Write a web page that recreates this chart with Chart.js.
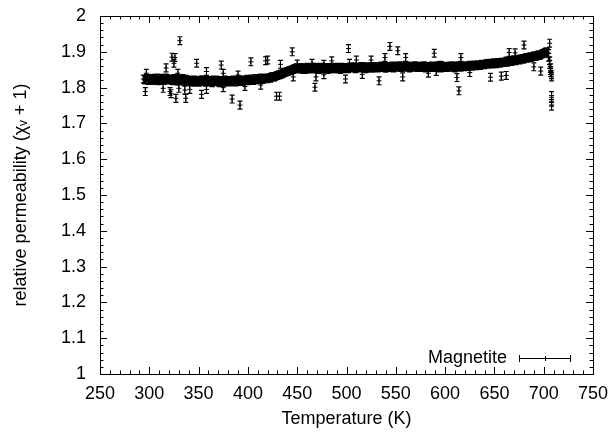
<!DOCTYPE html>
<html>
<head>
<meta charset="utf-8">
<script src="https://cdn.jsdelivr.net/npm/chart.js@4"></script>
<style>
  html, body { margin: 0; padding: 0; background: #fff; }
  #wrap { width: 613px; height: 433px; }
</style>
</head>
<body>
<div id="wrap"><canvas id="chart" width="613" height="433"></canvas></div>
<script>
// main band of measurements (K, relative permeability), even temperatures
const bandTemps = [
  294, 296, 298, 300, 302, 304, 306, 308, 310, 312, 314, 316, 318,
  320, 322, 324, 326, 328, 330, 332, 334, 336, 338,
  340, 342, 344, 346, 348, 350, 352, 354, 356, 358, 360, 362, 364, 366, 368, 370, 372, 374, 376, 378,
  380, 382, 384, 386, 388, 390, 392, 394, 396, 398,
  400, 402, 404, 406, 408, 410, 412, 414, 416, 418,
  420, 422, 424, 426, 428, 430,
  432, 434, 436, 438, 440, 442, 444, 446,
  448, 450, 452, 454, 456, 458, 460, 462, 464, 466, 468, 470, 472, 474, 476, 478, 480, 482, 484, 486, 488, 490, 492, 494, 496, 498,
  500, 502, 504, 506, 508, 510, 512, 514, 516, 518, 520, 522, 524, 526, 528, 530, 532, 534, 536, 538, 540, 542, 544, 546, 548, 550, 552, 554, 556, 558,
  560, 562, 564, 566, 568, 570, 572, 574, 576, 578, 580, 582, 584, 586, 588, 590, 592, 594, 596, 598, 600, 602, 604, 606, 608, 610, 612, 614, 616, 618,
  620, 622, 624, 626, 628, 630, 632, 634, 636, 638,
  640, 642, 644, 646, 648, 650, 652, 654, 656, 658,
  660, 662, 664, 666, 668, 670, 672, 674, 676, 678,
  680, 682, 684, 686, 688, 690, 692, 694, 696, 698,
  700, 702, 704
];
const bandPerm = [
  1.824, 1.821, 1.826, 1.822, 1.825, 1.820, 1.824, 1.827, 1.821, 1.823, 1.826, 1.822, 1.825,
  1.821, 1.824, 1.819, 1.823, 1.826, 1.820, 1.822, 1.825, 1.819, 1.822,
  1.820, 1.816, 1.819, 1.821, 1.817, 1.815, 1.819, 1.822, 1.818, 1.816,
  1.820, 1.817, 1.814, 1.819, 1.821, 1.816, 1.818, 1.820, 1.815, 1.818,
  1.817, 1.820, 1.818, 1.821, 1.816, 1.819, 1.822, 1.818, 1.820, 1.821,
  1.819, 1.822, 1.824, 1.820, 1.823, 1.825, 1.822, 1.826, 1.824, 1.827,
  1.825, 1.828, 1.830, 1.829, 1.832, 1.834,
  1.835, 1.838, 1.840, 1.843, 1.845, 1.847, 1.849, 1.851,
  1.852, 1.855, 1.853, 1.856, 1.851, 1.854, 1.857, 1.853, 1.855, 1.852,
  1.856, 1.854, 1.851, 1.855, 1.857, 1.853, 1.854, 1.856, 1.852, 1.855,
  1.853, 1.857, 1.854, 1.851, 1.856, 1.855,
  1.856, 1.853, 1.857, 1.855, 1.858, 1.854, 1.856, 1.859, 1.855, 1.857,
  1.853, 1.858, 1.856, 1.854, 1.859, 1.857, 1.855, 1.858, 1.860, 1.856,
  1.854, 1.858, 1.857, 1.860, 1.855, 1.859, 1.857, 1.861, 1.856, 1.858,
  1.860, 1.857, 1.855, 1.859, 1.858, 1.861, 1.856, 1.858, 1.860, 1.857,
  1.855, 1.859, 1.857, 1.860, 1.856, 1.858, 1.861, 1.857, 1.855, 1.859,
  1.858, 1.856, 1.860, 1.857, 1.859, 1.855, 1.858, 1.861, 1.857, 1.859,
  1.858, 1.861, 1.859, 1.862, 1.860, 1.863, 1.861, 1.864, 1.862, 1.865,
  1.864, 1.867, 1.865, 1.868, 1.866, 1.869, 1.867, 1.870, 1.868, 1.871,
  1.870, 1.874, 1.872, 1.876, 1.874, 1.878, 1.875, 1.879, 1.877, 1.881,
  1.880, 1.884, 1.882, 1.886, 1.885, 1.889, 1.887, 1.891, 1.890, 1.894,
  1.896, 1.899, 1.897
];
// same band, odd temperatures
const bandTempsOdd = [
  295, 297, 299, 301, 303, 305, 307, 309, 311, 313, 315, 317, 319,
  321, 323, 325, 327, 329, 331, 333, 335, 337, 339,
  341, 343, 345, 347, 349, 351, 353, 355, 357, 359, 361, 363, 365, 367, 369, 371, 373, 375, 377, 379,
  381, 383, 385, 387, 389, 391, 393, 395, 397, 399,
  401, 403, 405, 407, 409, 411, 413, 415, 417, 419,
  421, 423, 425, 427, 429, 431,
  433, 435, 437, 439, 441, 443, 445, 447,
  449, 451, 453, 455, 457, 459, 461, 463, 465, 467, 469, 471, 473, 475, 477, 479, 481, 483, 485, 487, 489, 491, 493, 495, 497, 499,
  501, 503, 505, 507, 509, 511, 513, 515, 517, 519, 521, 523, 525, 527, 529, 531, 533, 535, 537, 539, 541, 543, 545, 547, 549, 551, 553, 555, 557, 559,
  561, 563, 565, 567, 569, 571, 573, 575, 577, 579, 581, 583, 585, 587, 589, 591, 593, 595, 597, 599, 601, 603, 605, 607, 609, 611, 613, 615, 617, 619,
  621, 623, 625, 627, 629, 631, 633, 635, 637, 639,
  641, 643, 645, 647, 649, 651, 653, 655, 657, 659,
  661, 663, 665, 667, 669, 671, 673, 675, 677, 679,
  681, 683, 685, 687, 689, 691, 693, 695, 697, 699,
  701, 703
];
const bandPermOdd = [
  1.822, 1.826, 1.820, 1.824, 1.821, 1.826, 1.823, 1.819, 1.825, 1.822, 1.820, 1.827, 1.823,
  1.823, 1.820, 1.825, 1.821, 1.818, 1.824, 1.821, 1.817, 1.823, 1.820,
  1.817, 1.821, 1.815, 1.818, 1.820, 1.816, 1.822, 1.817, 1.815, 1.820,
  1.818, 1.815, 1.821, 1.817, 1.819, 1.814, 1.820, 1.817, 1.821, 1.816,
  1.819, 1.816, 1.821, 1.817, 1.820, 1.822, 1.817, 1.821, 1.819, 1.823,
  1.821, 1.824, 1.820, 1.825, 1.822, 1.824, 1.827, 1.823, 1.826, 1.825,
  1.827, 1.826, 1.831, 1.830, 1.833, 1.836,
  1.837, 1.839, 1.842, 1.844, 1.846, 1.848, 1.850, 1.853,
  1.855, 1.852, 1.856, 1.853, 1.855, 1.851, 1.856, 1.854, 1.852, 1.857,
  1.853, 1.855, 1.857, 1.852, 1.854, 1.856, 1.851, 1.855, 1.857, 1.853,
  1.856, 1.852, 1.855, 1.857, 1.853, 1.854,
  1.854, 1.857, 1.855, 1.858, 1.853, 1.857, 1.855, 1.856, 1.859, 1.854,
  1.857, 1.855, 1.859, 1.856, 1.855, 1.858, 1.856, 1.860, 1.857, 1.855,
  1.859, 1.856, 1.858, 1.855, 1.860, 1.857, 1.859, 1.856, 1.860, 1.857,
  1.858, 1.860, 1.856, 1.857, 1.861, 1.858, 1.859, 1.856, 1.858, 1.861,
  1.857, 1.856, 1.859, 1.858, 1.860, 1.857, 1.855, 1.859, 1.861, 1.857,
  1.856, 1.859, 1.858, 1.861, 1.856, 1.860, 1.857, 1.859, 1.858, 1.860,
  1.860, 1.859, 1.862, 1.860, 1.863, 1.861, 1.864, 1.862, 1.865, 1.864,
  1.866, 1.865, 1.868, 1.866, 1.869, 1.867, 1.870, 1.868, 1.871, 1.870,
  1.872, 1.871, 1.875, 1.873, 1.877, 1.876, 1.878, 1.877, 1.880, 1.879,
  1.882, 1.882, 1.885, 1.884, 1.887, 1.888, 1.889, 1.892, 1.892, 1.895,
  1.898, 1.900
];
// scattered readings away from the band, plus the drop at the end of the run
const strayTemps = [
  296, 297, 314, 317, 321, 322, 323, 325, 326, 327, 329, 330, 331, 336, 337, 341, 348, 353, 358, 358,
  373, 375, 375, 384, 390, 392, 397, 403, 413, 418, 420, 429, 432, 433, 445, 446, 450, 465, 468, 469,
  477, 477, 485, 499, 502, 503, 510, 516, 525, 533, 539, 544, 552, 557, 560, 583, 589, 591, 595, 612,
  614, 616, 625, 646, 657, 662, 665, 671, 680, 690, 697, 706,
  705, 705, 706, 706, 707, 707, 707, 708, 708, 708, 708, 708
];
const strayPerm = [
  1.789, 1.840, 1.798, 1.855, 1.789, 1.783, 1.885, 1.868, 1.884, 1.770, 1.840, 1.798, 1.931, 1.793, 1.770, 1.795, 1.868, 1.781, 1.845, 1.795,
  1.863, 1.840, 1.800, 1.768, 1.835, 1.751, 1.803, 1.872, 1.807, 1.875, 1.877, 1.776, 1.776, 1.865, 1.900, 1.830, 1.866, 1.868, 1.801, 1.830,
  1.865, 1.836, 1.875, 1.824, 1.909, 1.868, 1.877, 1.837, 1.877, 1.819, 1.884, 1.915, 1.903, 1.830, 1.884, 1.840, 1.896, 1.845, 1.862, 1.828,
  1.791, 1.884, 1.842, 1.829, 1.832, 1.834, 1.898, 1.897, 1.919, 1.858, 1.846, 1.924,
  1.895, 1.885, 1.875, 1.865, 1.855, 1.848, 1.842, 1.836, 1.830, 1.778, 1.762, 1.748
];
const permError = 0.011;

const seriesName = 'Magnetite';
const xTickLabels = ['250', '300', '350', '400', '450', '500', '550', '600', '650', '700', '750'];
const yTickLabels = ['1', '1.1', '1.2', '1.3', '1.4', '1.5', '1.6', '1.7', '1.8', '1.9', '2'];

const allTemps = bandTemps.concat(bandTempsOdd, strayTemps);
const allPerm = bandPerm.concat(bandPermOdd, strayPerm);
const points = allTemps.map((t, i) => ({ x: t, y: allPerm[i] }));

const font = { family: '"Liberation Sans", Arial, sans-serif', size: 18 };

// vertical error bars with small caps
const errorBars = {
  id: 'errorBars',
  beforeDatasetsDraw(chart) {
    const ctx = chart.ctx;
    const xs = chart.scales.x, ys = chart.scales.y;
    ctx.save();
    ctx.strokeStyle = '#000';
    ctx.lineWidth = 1.2;
    ctx.beginPath();
    points.forEach(p => {
      const px = xs.getPixelForValue(p.x);
      const top = ys.getPixelForValue(p.y + permError);
      const bot = ys.getPixelForValue(p.y - permError);
      ctx.moveTo(px, top); ctx.lineTo(px, bot);
      ctx.moveTo(px - 2.5, top); ctx.lineTo(px + 2.5, top);
      ctx.moveTo(px - 2.5, bot); ctx.lineTo(px + 2.5, bot);
    });
    ctx.stroke();
    ctx.restore();
  }
};

// gnuplot style border with inward ticks on all four sides, and the key
const frame = {
  id: 'frame',
  afterDraw(chart) {
    const ctx = chart.ctx;
    const a = chart.chartArea;
    const xs = chart.scales.x, ys = chart.scales.y;
    ctx.save();
    ctx.strokeStyle = '#000';
    ctx.lineWidth = 1;
    ctx.beginPath();
    for (let v = 250; v <= 750; v += 10) {
      const px = Math.round(xs.getPixelForValue(v)) + 0.5;
      const len = (v % 50 === 0) ? 7 : 3.5;
      ctx.moveTo(px, a.bottom); ctx.lineTo(px, a.bottom - len);
      ctx.moveTo(px, a.top); ctx.lineTo(px, a.top + len);
    }
    for (let k = 0; k <= 50; k++) {
      const py = Math.round(ys.getPixelForValue(1 + k * 0.02)) + 0.5;
      const len = (k % 5 === 0) ? 7 : 3.5;
      ctx.moveTo(a.left, py); ctx.lineTo(a.left + len, py);
      ctx.moveTo(a.right, py); ctx.lineTo(a.right - len, py);
    }
    ctx.stroke();
    ctx.strokeRect(Math.round(a.left) + 0.5, Math.round(a.top) + 0.5,
      Math.round(a.right - a.left), Math.round(a.bottom - a.top));

    // key
    ctx.fillStyle = '#000';
    ctx.font = font.size + 'px ' + font.family;
    ctx.textAlign = 'right';
    ctx.textBaseline = 'middle';
    ctx.fillText(seriesName, 507, 358);
    ctx.beginPath();
    ctx.moveTo(519, 358.5); ctx.lineTo(571, 358.5);
    ctx.moveTo(519.5, 355); ctx.lineTo(519.5, 362);
    ctx.moveTo(570.5, 355); ctx.lineTo(570.5, 362);
    ctx.moveTo(545.5, 356); ctx.lineTo(545.5, 361);
    ctx.stroke();
    ctx.restore();
  }
};

new Chart(document.getElementById('chart'), {
  type: 'scatter',
  data: {
    datasets: [{
      label: seriesName,
      data: points,
      pointStyle: 'cross',
      pointRadius: 2.5,
      pointBorderWidth: 1,
      borderColor: '#000',
      backgroundColor: '#000'
    }]
  },
  options: {
    responsive: false,
    animation: false,
    devicePixelRatio: 1,
    layout: { padding: { top: 16, right: 20, left: 0, bottom: 0 } },
    plugins: {
      legend: { display: false },
      tooltip: { enabled: false }
    },
    scales: {
      x: {
        type: 'linear',
        min: 250,
        max: 750,
        grid: { display: false, drawTicks: false },
        border: { display: false },
        ticks: {
          stepSize: 50,
          padding: 9,
          color: '#000',
          font: font,
          maxRotation: 0,
          callback: (v, i) => xTickLabels[i]
        },
        title: {
          display: true,
          text: 'Temperature (K)',
          color: '#000',
          font: font,
          padding: { top: 0, bottom: 3 }
        },
        afterFit: s => { s.height = 59; s.paddingLeft = 0; s.paddingRight = 0; }
      },
      y: {
        min: 1,
        max: 2,
        grid: { display: false, drawTicks: false },
        border: { display: false },
        ticks: {
          stepSize: 0.1,
          padding: 14,
          color: '#000',
          font: font,
          callback: (v, i) => yTickLabels[i]
        },
        title: {
          display: true,
          text: 'relative permeability (\u03c7\u1d65 + 1)',
          color: '#000',
          font: font,
          padding: { top: 10, bottom: 0 }
        },
        afterFit: s => { s.width = 100; s.paddingTop = 0; s.paddingBottom = 0; }
      }
    }
  },
  plugins: [errorBars, frame]
});
</script>
</body>
</html>
